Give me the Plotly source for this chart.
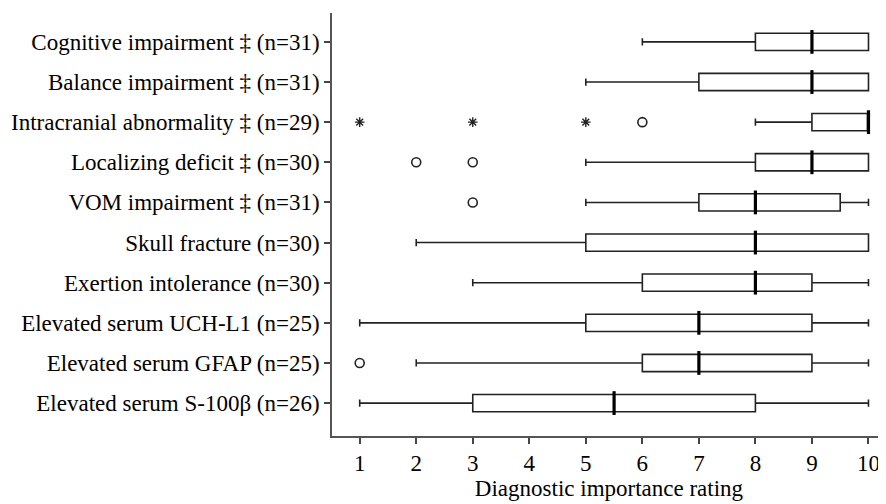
import plotly.graph_objects as go

categories = [
    "Elevated serum S-100β (n=26)",
    "Elevated serum GFAP (n=25)",
    "Elevated serum UCH-L1 (n=25)",
    "Exertion intolerance (n=30)",
    "Skull fracture (n=30)",
    "VOM impairment ‡ (n=31)",
    "Localizing deficit ‡ (n=30)",
    "Intracranial abnormality ‡ (n=29)",
    "Balance impairment ‡ (n=31)",
    "Cognitive impairment ‡ (n=31)",
]
lower_whisker = [1, 2, 1, 3, 2, 5, 5, 8, 5, 6]
q1 = [3, 6, 5, 6, 5, 7, 8, 9, 7, 8]
median = [5.5, 7, 7, 8, 8, 8, 9, 10, 9, 9]
q3 = [8, 9, 9, 9, 10, 9.5, 10, 10, 10, 10]
upper_whisker = [10, 10, 10, 10, 10, 10, 10, 10, 10, 10]

outlier_cat = [
    "Elevated serum GFAP (n=25)",
    "VOM impairment ‡ (n=31)",
    "Localizing deficit ‡ (n=30)",
    "Localizing deficit ‡ (n=30)",
    "Intracranial abnormality ‡ (n=29)",
]
outlier_val = [1, 3, 2, 3, 6]

extreme_cat = [
    "Intracranial abnormality ‡ (n=29)",
    "Intracranial abnormality ‡ (n=29)",
    "Intracranial abnormality ‡ (n=29)",
]
extreme_val = [1, 3, 5]

x_ticks = [1, 2, 3, 4, 5, 6, 7, 8, 9, 10]

FONT = "Liberation Serif, Times New Roman, serif"

fig = go.Figure()
fig.add_trace(go.Box(
    y=categories,
    q1=q1, median=median, q3=q3,
    lowerfence=lower_whisker, upperfence=upper_whisker,
    orientation="h",
    boxpoints=False,
    width=0.43,
    whiskerwidth=0.42,
    fillcolor="white",
    line=dict(color="#222222", width=1.6),
    hoverinfo="skip",
    showlegend=False,
))
fig.add_trace(go.Scatter(
    x=median, y=categories, mode="markers",
    marker=dict(symbol="line-ns-open", size=17, color="black",
                line=dict(color="black", width=3.2)),
    showlegend=False, hoverinfo="skip",
))
fig.add_trace(go.Scatter(
    x=outlier_val, y=outlier_cat, mode="markers",
    marker=dict(symbol="circle-open", size=9, color="#222222",
                line=dict(color="#222222", width=1.6)),
    showlegend=False, hoverinfo="skip",
))
fig.add_trace(go.Scatter(
    x=extreme_val, y=extreme_cat, mode="markers",
    marker=dict(symbol="asterisk-open", size=8, color="#222222",
                line=dict(color="#222222", width=1.4)),
    showlegend=False, hoverinfo="skip",
))

# page body has an 8px margin, so the figure is sized/offset to fit the 886x504 window
fig.update_layout(
    width=878, height=496,
    margin=dict(l=324, r=0, t=5, b=68),
    paper_bgcolor="white", plot_bgcolor="white",
    font=dict(family=FONT, size=23, color="black"),
)
fig.update_xaxes(
    range=[0.51, 10.31], automargin=False,
    tickmode="array", tickvals=x_ticks, ticktext=[str(v) for v in x_ticks],
    ticks="outside", ticklen=6, tickwidth=1.5, tickcolor="#444444",
    showline=True, linecolor="#555555", linewidth=1.5,
    showgrid=False, zeroline=False,
    title=dict(text="Diagnostic importance rating", font=dict(family=FONT, size=23), standoff=0),
    tickfont=dict(family=FONT, size=23),
)
fig.update_yaxes(
    type="category", categoryorder="array", categoryarray=categories,
    range=[-0.82, 9.72], automargin=False,
    ticks="outside", ticklen=6, tickwidth=1.5, tickcolor="#444444",
    showline=True, linecolor="#555555", linewidth=1.5,
    showgrid=False, zeroline=False,
    tickfont=dict(family=FONT, size=23),
)

fig.write_html("out.html")
